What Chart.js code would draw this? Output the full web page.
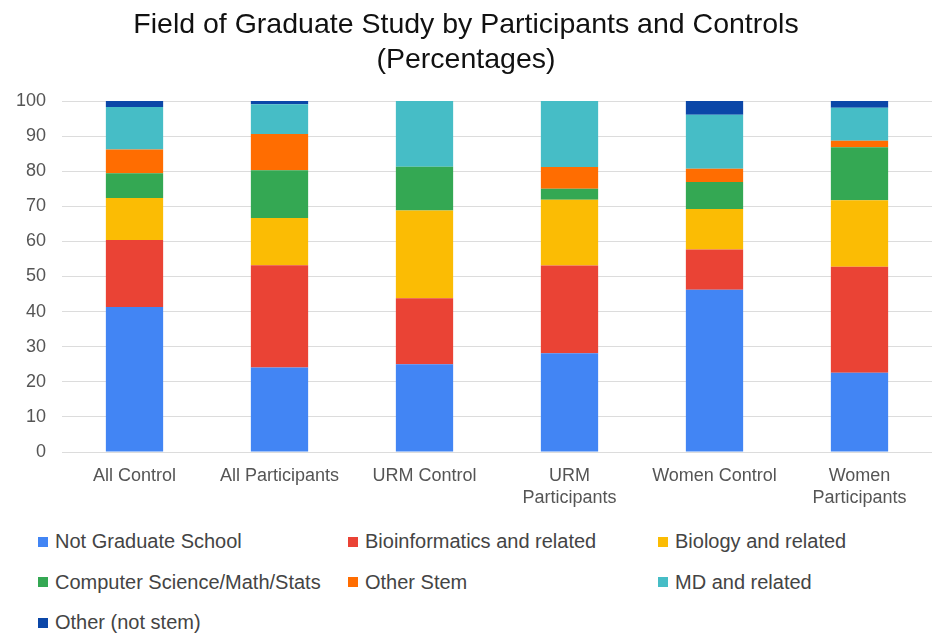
<!DOCTYPE html>
<html>
<head>
<meta charset="utf-8">
<script src="https://cdn.jsdelivr.net/npm/chart.js@4"></script>
<style>
  html, body { margin: 0; padding: 0; background: #fff; }
  #wrap { position: relative; width: 932px; height: 635px; overflow: hidden; }
  #chartBox { position: absolute; left: 0; top: 0; width: 932px; height: 520px; }
  #legend {
    position: absolute; left: 38px; top: 521.5px;
    display: grid; grid-template-columns: 310px 310px 274px;
    grid-auto-rows: 40.5px;
    font-family: "Liberation Sans", Arial, sans-serif; font-size: 20px; color: #444;
  }
  .item { display: flex; align-items: center; white-space: nowrap; }
  .sw { width: 10px; height: 10px; margin-right: 7px; flex: none; }
</style>
</head>
<body>
<div id="wrap">
  <div id="chartBox"><canvas id="c" width="932" height="520"></canvas></div>
  <div id="legend"></div>
</div>
<script>
const titleLines = ['Field of Graduate Study by Participants and Controls', '(Percentages)'];
const categories = ['All Control', 'All Participants', 'URM Control', ['URM', 'Participants'], 'Women Control', ['Women', 'Participants']];
const seriesNames = ['Not Graduate School', 'Bioinformatics and related', 'Biology and related', 'Computer Science/Math/Stats', 'Other Stem', 'MD and related', 'Other (not stem)'];
const notGradSchool = [41.3, 24.1, 25.0, 28.1, 46.2, 22.6];
const bioinformatics = [19.1, 29.1, 18.8, 25.0, 11.5, 30.2];
const biology = [12.0, 13.5, 25.0, 18.8, 11.5, 18.9];
const csMathStats = [7.0, 13.6, 12.5, 3.1, 7.7, 15.1];
const otherStem = [6.8, 10.3, 0, 6.2, 3.8, 1.9];
const mdRelated = [12.1, 8.5, 18.7, 18.8, 15.4, 9.4];
const otherNotStem = [1.7, 0.9, 0, 0, 3.9, 1.9];
const yTicks = [0, 10, 20, 30, 40, 50, 60, 70, 80, 90, 100];

const seriesValues = [notGradSchool, bioinformatics, biology, csMathStats, otherStem, mdRelated, otherNotStem];
const colors = ['#4285F4', '#EA4335', '#FBBC04', '#34A853', '#FF6D01', '#46BDC6', '#0B47A8'];
const FONT = '"Liberation Sans", Arial, sans-serif';

const chart = new Chart(document.getElementById('c'), {
  type: 'bar',
  data: {
    labels: categories,
    datasets: seriesNames.map((name, i) => ({
      label: name,
      data: seriesValues[i],
      backgroundColor: colors[i],
      borderWidth: 0,
      barPercentage: 0.395,
      categoryPercentage: 1
    }))
  },
  options: {
    responsive: false,
    animation: false,
    devicePixelRatio: 1,
    layout: { padding: 0 },
    plugins: {
      legend: { display: false },
      tooltip: { enabled: false },
      title: {
        display: true,
        text: titleLines,
        color: '#111',
        font: { family: FONT, size: 28.5, weight: 'normal', lineHeight: 1.23 },
        padding: { top: 7.5, bottom: 23.4 }
      }
    },
    scales: {
      x: {
        stacked: true,
        grid: { display: false, drawTicks: false },
        border: { display: false },
        ticks: {
          color: '#555',
          font: { family: FONT, size: 18, lineHeight: 1.17 },
          padding: 14,
          maxRotation: 0,
          autoSkip: false
        },
        afterFit: (s) => { s.height = 68; }
      },
      y: {
        stacked: true,
        min: 0,
        max: 100,
        afterBuildTicks: (s) => { s.ticks = yTicks.map(v => ({ value: v })); },
        grid: { color: '#dcdcdc', lineWidth: 1, drawTicks: false },
        border: { display: false },
        ticks: {
          color: '#555',
          font: { family: FONT, size: 18 },
          padding: 16
        },
        afterFit: (s) => { s.width = 62; }
      }
    }
  }
});

const legend = document.getElementById('legend');
chart.data.datasets.forEach(ds => {
  const it = document.createElement('div');
  it.className = 'item';
  const sw = document.createElement('span');
  sw.className = 'sw';
  sw.style.background = ds.backgroundColor;
  const tx = document.createElement('span');
  tx.textContent = ds.label;
  it.appendChild(sw);
  it.appendChild(tx);
  legend.appendChild(it);
});
</script>
</body>
</html>
